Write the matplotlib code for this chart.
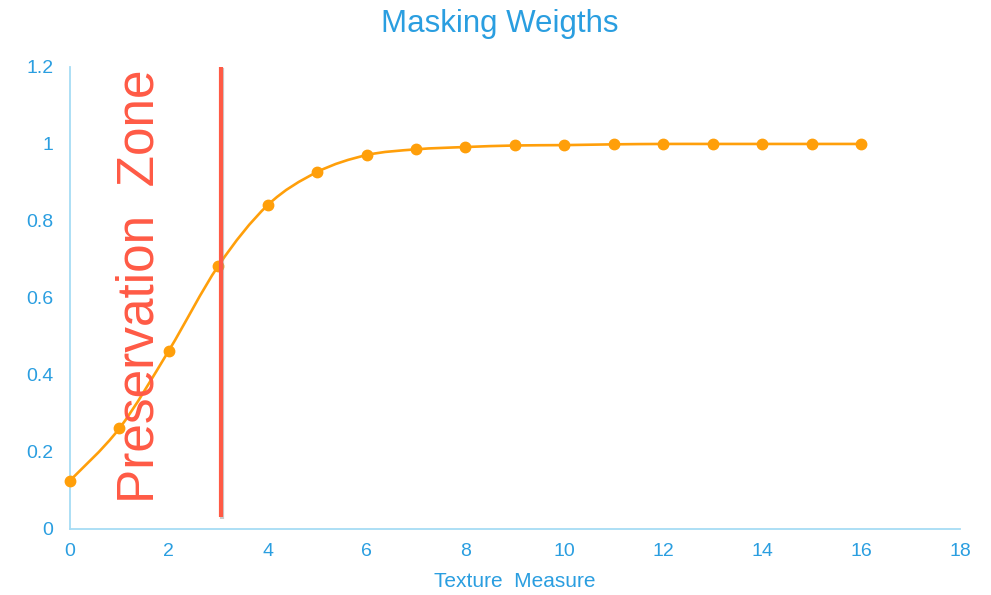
import numpy as np
import matplotlib
matplotlib.use('Agg')
import matplotlib.pyplot as plt
import matplotlib.patheffects as pe
from matplotlib.path import Path
from matplotlib.patches import PathPatch

# Data
texture = [0, 1, 2, 3, 4, 5, 6, 7, 8, 9, 10, 11, 12, 13, 14, 15, 16]
weights = [0.125, 0.261, 0.463, 0.683, 0.841, 0.927, 0.971, 0.986, 0.992,
           0.996, 0.997, 0.999, 1.0, 1.0, 1.0, 1.0, 1.0]
zone_x = 3.05
zone_y = [0.03, 1.2]

BLUE = "#2a9ee0"
ORANGE = "#ff9f0a"
RED = "#ff5a45"
SPINE = "#a6dcf5"

plt.rcParams['font.family'] = ['Liberation Sans', 'DejaVu Sans']

fig = plt.figure(figsize=(9.91, 5.95), dpi=100)
ax = fig.add_axes([0.0706, 0.1114, 0.898, 0.776])

# smooth curve through the points (Catmull-Rom as cubic Bezier)
pts = np.column_stack([texture, weights]).astype(float)
ext = np.vstack([pts[0], pts, pts[-1]])
verts = [tuple(pts[0])]
codes = [Path.MOVETO]
for i in range(len(pts) - 1):
    p0, p1, p2, p3 = ext[i], ext[i + 1], ext[i + 2], ext[i + 3]
    c1 = p1 + (p2 - p0) / 6
    c2 = p2 - (p3 - p1) / 6
    verts += [tuple(c1), tuple(c2), tuple(p2)]
    codes += [Path.CURVE4] * 3
ax.add_patch(PathPatch(Path(verts, codes), facecolor='none', edgecolor=ORANGE,
                       lw=1.9, zorder=3))
ax.plot(texture, weights, linestyle='none', marker='o', ms=7.5,
        color=ORANGE, zorder=4, clip_on=False)

# preservation zone boundary
ax.plot([zone_x, zone_x], zone_y, color=RED, lw=3, zorder=5,
        solid_capstyle='butt',
        path_effects=[pe.SimpleLineShadow(offset=(1.2, -1), shadow_color='#999999', alpha=0.5),
                      pe.Normal()])
ax.text(1.42, 0.63, "Preservation  Zone", rotation=90, color=RED, fontsize=37,
        ha='center', va='center', zorder=6)

ax.set_xlim(0, 18)
ax.set_ylim(0, 1.2)
ax.set_xticks(range(0, 19, 2))
ax.set_yticks([0, 0.2, 0.4, 0.6, 0.8, 1, 1.2])
ax.set_yticklabels(["0", "0.2", "0.4", "0.6", "0.8", "1", "1.2"])
ax.tick_params(axis='both', length=0, colors=BLUE, labelsize=14)
ax.tick_params(axis='y', pad=12)
ax.tick_params(axis='x', pad=10)

for s in ['top', 'right']:
    ax.spines[s].set_visible(False)
for s in ['left', 'bottom']:
    ax.spines[s].set_color(SPINE)
    ax.spines[s].set_linewidth(1.3)

ax.set_xlabel("Texture  Measure", color=BLUE, fontsize=15, labelpad=9)
fig.text(0.5045, 0.96, "Masking Weigths", color=BLUE, fontsize=22.5,
         ha='center', va='center')

fig.savefig("out.png", dpi=100, facecolor='white')
